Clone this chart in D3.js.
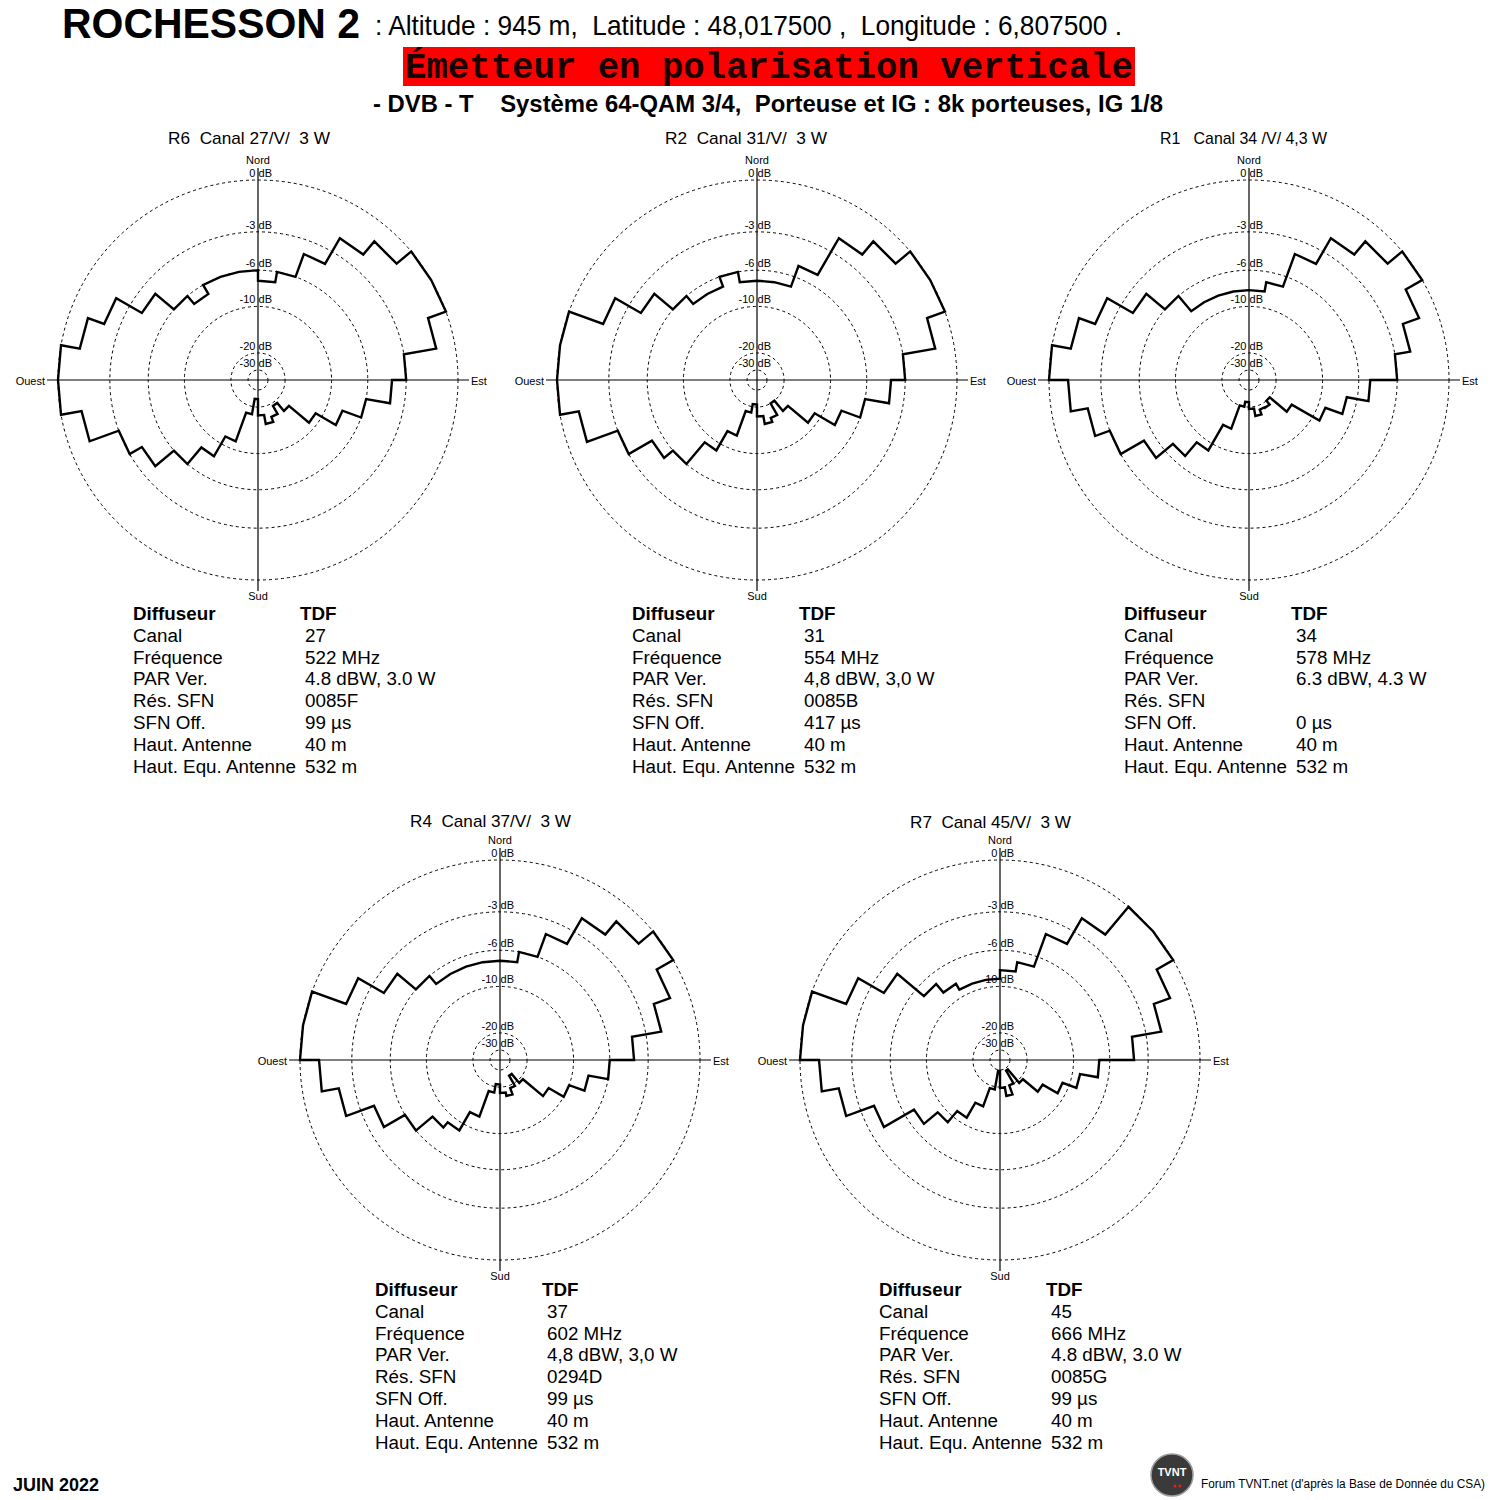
<!DOCTYPE html>
<html>
<head>
<meta charset="utf-8">
<script src="https://cdn.jsdelivr.net/npm/d3@7"></script>
<style>
  body { margin: 0; background: #fff; }
  text { font-family: "Liberation Sans", Arial, sans-serif; fill: #000; }
  .narrow { font-family: "Liberation Sans Narrow", "Arial Narrow", "Liberation Sans", sans-serif; }
</style>
</head>
<body>
<script>

// azimut de debut de chaque secteur de 10 degres
var sectorStart = [0, 10, 20, 30, 40, 50, 60, 70, 80, 90, 100, 110, 120, 130, 140, 150, 160, 170,
    180, 190, 200, 210, 220, 230, 240, 250, 260, 270, 280, 290, 300, 310, 320, 330, 340, 350];

var r6Db = [-7, -6, -4, -2, -1, 0, 0, -1, -3, -4, -6, -8, -11, -16, -19, -16.3, -15, -17.3,
    -23.5, -17.5, -11.2, -8.2, -6, -4, -3, -1.1, 0, 0, -1, -2, -4, -6, -7, -6, -6, -6];
var r2Db = [-7, -7, -5, -2, -1, 0, 0, -1, -3, -4, -6, -8, -11, -16, -20, -16, -15, -17,
    -21, -18, -12.2, -9, -6, -5, -3, -1, 0, 0, 0, -2, -4, -6, -7, -7, -6, -7];
var r1Db = [-8, -7, -4, -2, -1, 0, -1, -2, -3, -5, -7, -9, -14, -20, -18.3, -18.5, -17, -19.3,
    -22, -20, -13.5, -9, -7, -5, -3, -2, -1, 0, -1, -2, -4, -6, -8, -8, -8, -8];
var r4Db = [-7, -6, -4, -2, -1, 0, -1, -2, -4, -6, -8, -10, -12.7, -19, -24, -19, -17, -18,
    -21, -18, -12, -9, -8.2, -6, -4, -2, -1, 0, 0, -2, -4, -6, -7, -7, -7, -7];
var r7Db = [-8, -7, -4, -2, 0, 0, -1, -2, -4, -7, -9, -11, -14, -19, -28, -20, -17, -19.7,
    -29, -19, -14, -11, -9, -7, -4, -2, -1, 0, 0, -2, -4, -7, -8.2, -9, -9, -9];

var ringDb = [0, -3, -6, -10, -20, -30];
var ringLabels = ["0 dB", "-3 dB", "-6 dB", "-10 dB", "-20 dB", "-30 dB"];

var chartTitles = ["R6  Canal 27/V/  3 W", "R2  Canal 31/V/  3 W", "R1   Canal 34 /V/ 4,3 W",
    "R4  Canal 37/V/  3 W", "R7  Canal 45/V/  3 W"];

var infoLabels = ["Diffuseur", "Canal", "Fréquence", "PAR Ver.", "Rés. SFN", "SFN Off.",
    "Haut. Antenne", "Haut. Equ. Antenne"];
var r6Info = ["TDF", "27", "522 MHz", "4.8 dBW, 3.0 W", "0085F", "99 µs", "40 m", "532 m"];
var r2Info = ["TDF", "31", "554 MHz", "4,8 dBW, 3,0 W", "0085B", "417 µs", "40 m", "532 m"];
var r1Info = ["TDF", "34", "578 MHz", "6.3 dBW, 4.3 W", "", "0 µs", "40 m", "532 m"];
var r4Info = ["TDF", "37", "602 MHz", "4,8 dBW, 3,0 W", "0294D", "99 µs", "40 m", "532 m"];
var r7Info = ["TDF", "45", "666 MHz", "4.8 dBW, 3.0 W", "0085G", "99 µs", "40 m", "532 m"];

var seriesDb = [r6Db, r2Db, r1Db, r4Db, r7Db];
var seriesInfo = [r6Info, r2Info, r1Info, r4Info, r7Info];

// mise en page
var width = 1500, height = 1500;
var radius = 200;
var centerX = [258, 757, 1249, 500, 1000];
var centerY = [380, 380, 380, 1060, 1060];
var titleX = [168, 665, 1160, 410, 910];
var titleY = [144, 144, 144, 827, 828];
var titleW = [162, 162, 167, 161, 161];
var tableX = [133, 632, 1124, 375, 879];
var tableY = [620, 620, 620, 1296, 1296];
var rowStep = 21.8;

var svg = d3.select('body')
    .append('svg')
    .attr('width', width)
    .attr('height', height);

svg.append('rect')
    .attr('width', width)
    .attr('height', height)
    .attr('fill', '#fff');

// echelle radiale : rayon proportionnel a exp(dB/10)
var rScale = d3.scaleLinear()
    .domain([0, 1])
    .range([0, radius]);

function rad(db) {
    return rScale(Math.exp(db / 10));
}

var pattern = d3.lineRadial()
    .angle(d => d[0] * Math.PI / 180)
    .radius(d => rad(d[1]))
    .curve(d3.curveLinearClosed);

// --- en-tete ---
svg.append('text')
    .attr('x', 62)
    .attr('y', 38)
    .attr('textLength', 298)
    .attr('lengthAdjust', 'spacingAndGlyphs')
    .style('font-size', '42px')
    .style('font-weight', 'bold')
    .text('ROCHESSON 2');

svg.append('text')
    .attr('class', 'narrow')
    .attr('x', 375)
    .attr('y', 35)
    .attr('textLength', 747)
    .attr('lengthAdjust', 'spacingAndGlyphs')
    .style('font-size', '28px')
    .style('white-space', 'pre')
    .text(': Altitude : 945 m,  Latitude : 48,017500 ,  Longitude : 6,807500 .');

svg.append('rect')
    .attr('x', 403)
    .attr('y', 47)
    .attr('width', 732)
    .attr('height', 39)
    .attr('fill', '#ff0000');

svg.append('text')
    .attr('x', 405)
    .attr('y', 78)
    .attr('textLength', 728)
    .attr('lengthAdjust', 'spacingAndGlyphs')
    .style('font-family', '"Liberation Mono", "Courier New", monospace')
    .style('font-size', '36px')
    .style('font-weight', 'bold')
    .style('fill', '#1a0000')
    .text('Émetteur en polarisation verticale');

svg.append('text')
    .attr('x', 373)
    .attr('y', 112)
    .attr('textLength', 790)
    .attr('lengthAdjust', 'spacingAndGlyphs')
    .style('font-size', '23px')
    .style('font-weight', 'bold')
    .style('white-space', 'pre')
    .text('- DVB - T    Système 64-QAM 3/4,  Porteuse et IG : 8k porteuses, IG 1/8');

// --- diagrammes ---
seriesDb.forEach(function (values, k) {

    var g = svg.append('g')
        .attr('transform', 'translate(' + centerX[k] + ',' + centerY[k] + ')');

    svg.append('text')
        .attr('class', 'narrow')
        .attr('x', titleX[k])
        .attr('y', titleY[k])
        .attr('textLength', titleW[k])
        .attr('lengthAdjust', 'spacingAndGlyphs')
        .style('font-size', '17px')
        .style('white-space', 'pre')
        .text(chartTitles[k]);

    g.selectAll('circle.ring')
        .data(ringDb)
        .enter()
        .append('circle')
        .attr('class', 'ring')
        .attr('r', d => rad(d))
        .attr('fill', 'none')
        .attr('stroke', '#000')
        .attr('stroke-width', 1)
        .attr('stroke-dasharray', '3,3');

    g.append('line')
        .attr('x1', -211).attr('x2', 211)
        .attr('y1', 0).attr('y2', 0)
        .attr('stroke', '#000')
        .attr('stroke-width', 1.2);

    g.append('line')
        .attr('x1', 0).attr('x2', 0)
        .attr('y1', -212).attr('y2', 211)
        .attr('stroke', '#000')
        .attr('stroke-width', 1.2);

    g.selectAll('text.ringlab')
        .data(ringDb)
        .enter()
        .append('text')
        .attr('class', 'ringlab narrow')
        .attr('x', 14)
        .attr('y', d => -rad(d) - 3)
        .attr('text-anchor', 'end')
        .style('font-size', '11px')
        .text((d, i) => ringLabels[i]);

    g.append('text').attr('class', 'narrow')
        .attr('x', 0).attr('y', -216)
        .attr('text-anchor', 'middle')
        .style('font-size', '11px')
        .text('Nord');

    g.append('text').attr('class', 'narrow')
        .attr('x', 0).attr('y', 220)
        .attr('text-anchor', 'middle')
        .style('font-size', '11px')
        .text('Sud');

    g.append('text').attr('class', 'narrow')
        .attr('x', -213).attr('y', 5)
        .attr('text-anchor', 'end')
        .style('font-size', '11px')
        .text('Ouest');

    g.append('text').attr('class', 'narrow')
        .attr('x', 213).attr('y', 5)
        .style('font-size', '11px')
        .text('Est');

    // chaque secteur : corde a rayon constant, saut radial aux limites
    var pts = [];
    values.forEach(function (v, i) {
        pts.push([sectorStart[i], v]);
        pts.push([sectorStart[i] + 10, v]);
    });

    g.append('path')
        .attr('d', pattern(pts))
        .attr('fill', 'none')
        .attr('stroke', '#000')
        .attr('stroke-width', 2.4)
        .attr('stroke-linejoin', 'miter');

    // tableau d'informations
    var info = seriesInfo[k];
    infoLabels.forEach(function (lab, i) {
        svg.append('text')
            .attr('x', tableX[k])
            .attr('y', tableY[k] + i * rowStep)
            .style('font-size', '18.8px')
            .style('font-weight', i == 0 ? 'bold' : 'normal')
            .text(lab);
        svg.append('text')
            .attr('x', tableX[k] + (i == 0 ? 167 : 172))
            .attr('y', tableY[k] + i * rowStep)
            .style('font-size', '18.8px')
            .style('font-weight', i == 0 ? 'bold' : 'normal')
            .text(info[i]);
    });
});

// --- pied de page ---
svg.append('text')
    .attr('x', 13)
    .attr('y', 1491)
    .style('font-size', '18px')
    .style('font-weight', 'bold')
    .text('JUIN 2022');

svg.append('circle')
    .attr('cx', 1172)
    .attr('cy', 1475)
    .attr('r', 21)
    .attr('fill', '#3a3a3a')
    .attr('stroke', '#9a9a9a')
    .attr('stroke-width', 1.5);

svg.append('text')
    .attr('x', 1172)
    .attr('y', 1476)
    .attr('text-anchor', 'middle')
    .style('font-size', '11px')
    .style('font-weight', 'bold')
    .style('fill', '#fff')
    .text('TVNT');

svg.append('circle')
    .attr('cx', 1175).attr('cy', 1486).attr('r', 1.5)
    .attr('fill', '#d22');
svg.append('circle')
    .attr('cx', 1180).attr('cy', 1486).attr('r', 1.5)
    .attr('fill', '#d22');

svg.append('text')
    .attr('x', 1201)
    .attr('y', 1488)
    .attr('textLength', 284)
    .attr('lengthAdjust', 'spacingAndGlyphs')
    .style('font-size', '12px')
    .text("Forum TVNT.net (d'après la Base de Donnée du CSA)");

</script>
</body>
</html>
